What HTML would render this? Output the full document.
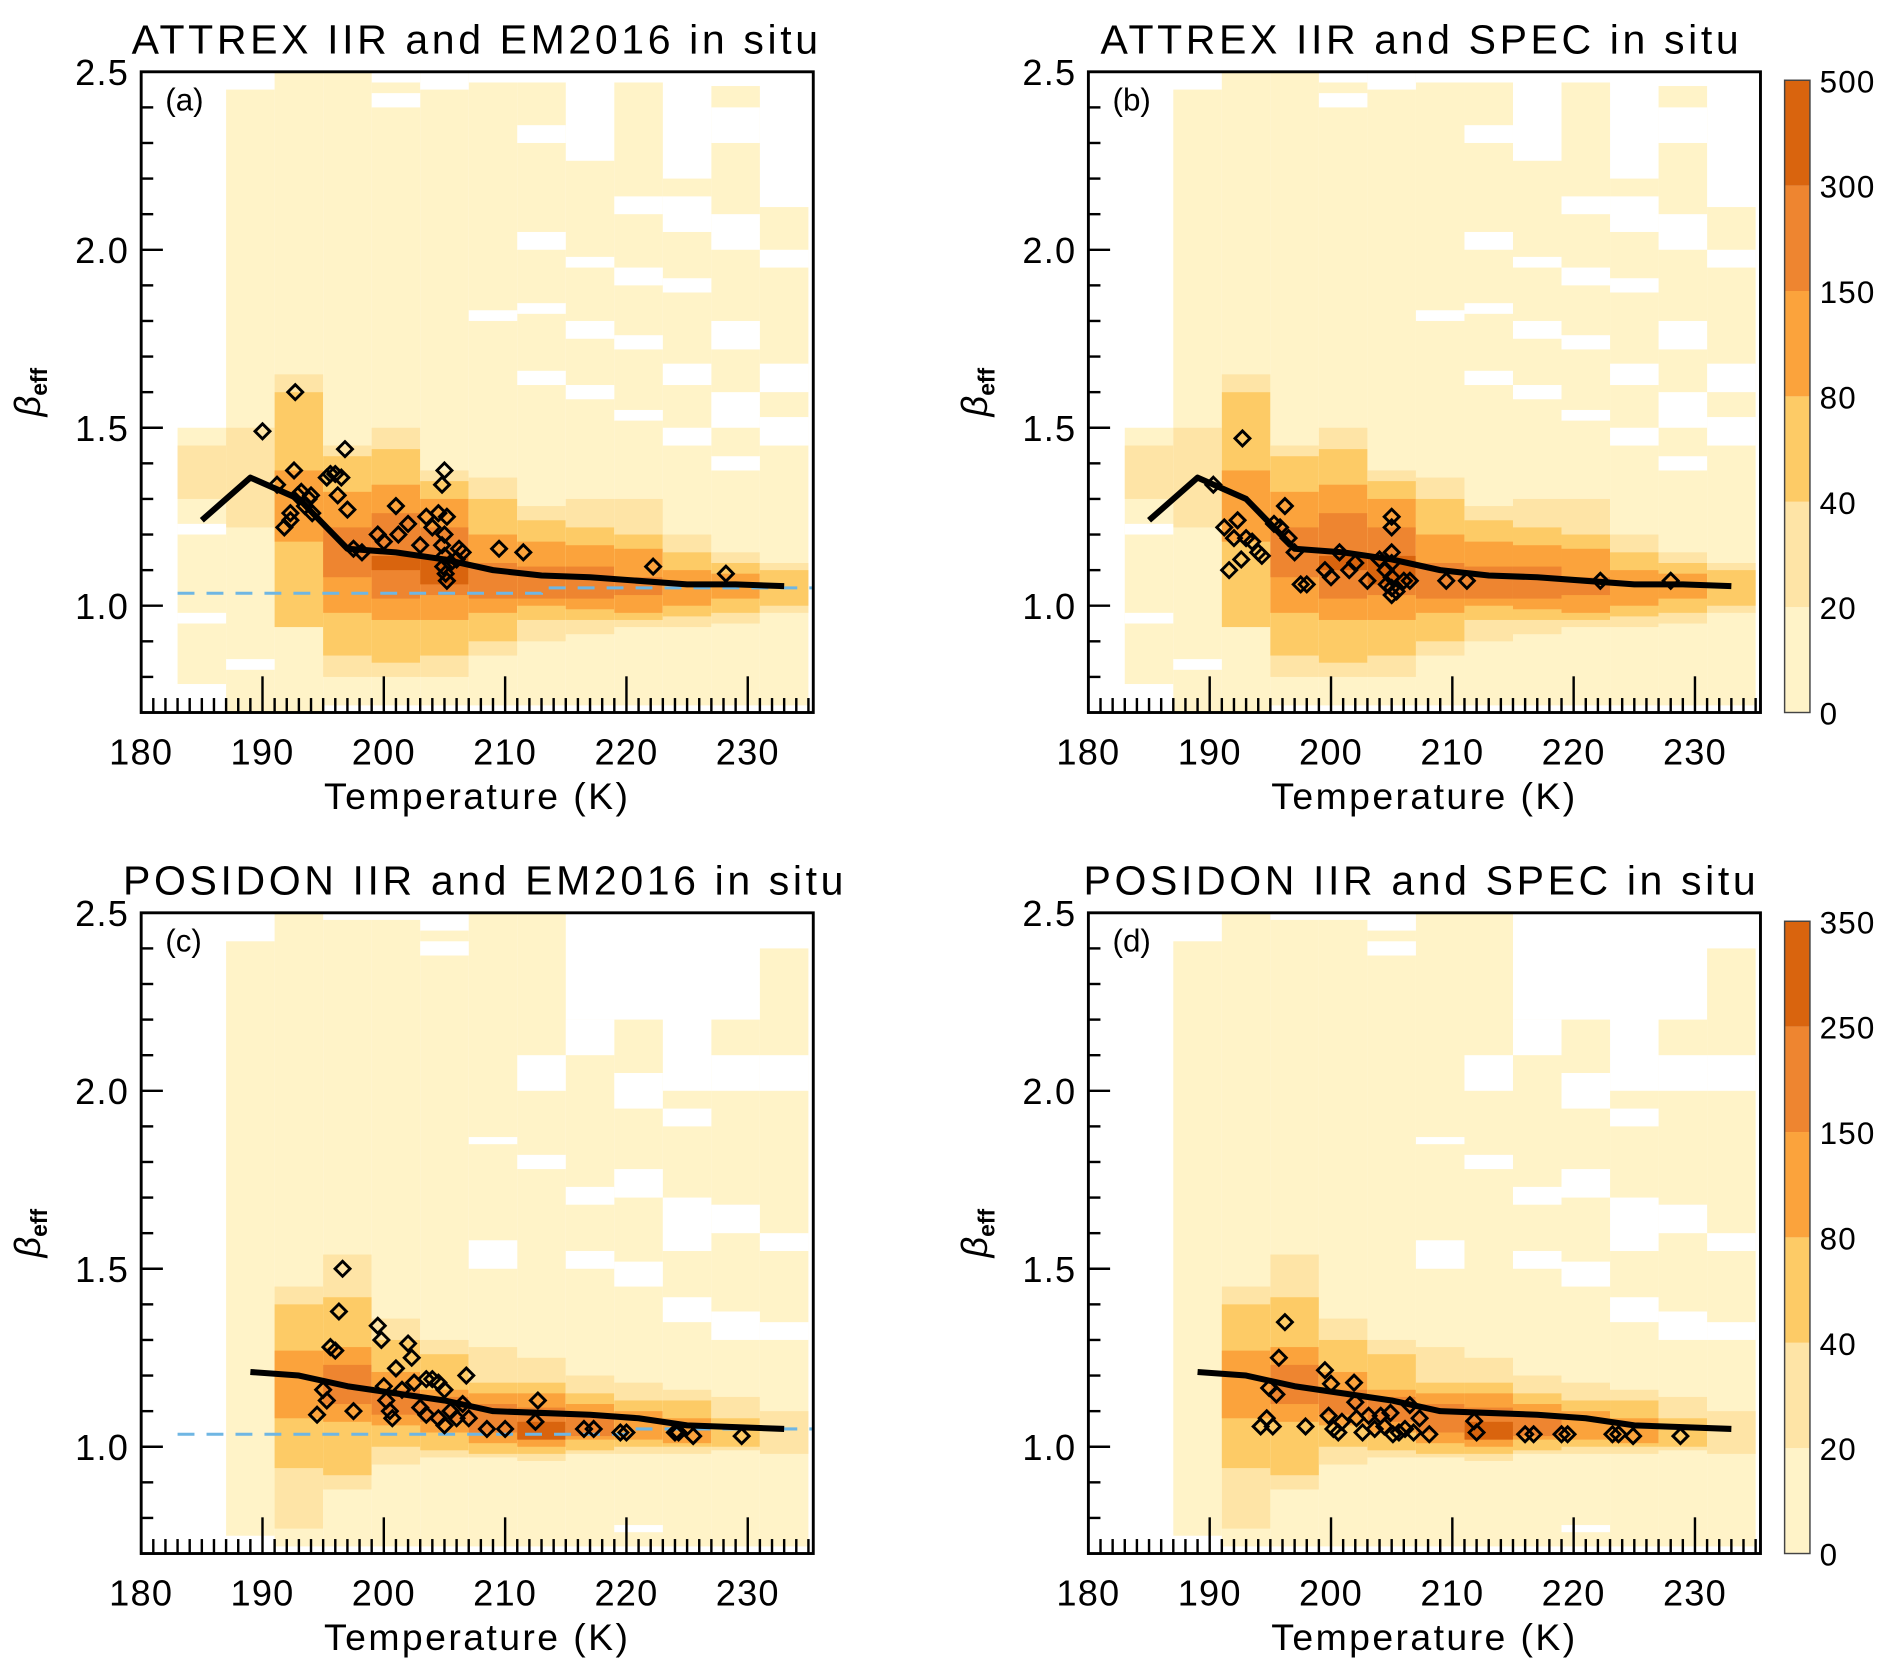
<!DOCTYPE html>
<html><head><meta charset="utf-8"><style>
html,body{margin:0;padding:0;background:#fff}
svg{display:block}
text{font-family:"Liberation Sans",sans-serif;fill:#000}
</style></head><body>
<svg id="fig" width="1892" height="1676" viewBox="0 0 1568 1389" preserveAspectRatio="none" xmlns="http://www.w3.org/2000/svg"></svg>
<script>
// ---- data ----
const levelColors = ["#ffffff","#fff3c8","#fee4a6","#fdcb66","#fba33c","#ee8530","#d9640e"];
const cbLabelsTop = ["0","20","40","80","150","300","500"];
const cbLabelsBottom = ["0","20","40","80","150","250","350"];
const xTickLabels = [180,190,200,210,220,230];
const yTickLabels = ["1.0","1.5","2.0","2.5"];
const colStarts = [183,187,191,195,199,203,207,211,215,219,223,227,231];
// heatmap ATTREX: per column list of [lo,hi,level]
const heatA = [
 [[0.78,1.5,1],[1.3,1.45,2]],
 [[0.7,2.45,1],[1.22,1.5,2]],
 [[0.7,2.5,1],[1.6,1.65,2],[0.94,1.6,3],[1.18,1.38,4]],
 [[0.72,2.5,1],[0.8,1.45,2],[0.86,1.42,3],[0.98,1.32,4],[1.08,1.22,5]],
 [[0.72,2.47,1],[0.8,1.5,2],[0.84,1.44,3],[0.96,1.34,4],[1.02,1.26,5],[1.10,1.14,6]],
 [[0.72,2.5,1],[0.8,1.38,2],[0.86,1.35,3],[0.96,1.3,4],[1.03,1.22,5],[1.06,1.14,6]],
 [[0.72,2.47,1],[0.86,1.36,2],[0.9,1.3,3],[0.98,1.2,4],[1.02,1.12,5]],
 [[0.72,2.47,1],[0.9,1.28,2],[0.96,1.24,3],[1.0,1.18,4],[1.02,1.11,5]],
 [[0.72,2.25,1],[0.92,1.3,2],[0.96,1.22,3],[0.99,1.17,4],[1.02,1.11,5]],
 [[0.72,2.47,1],[0.94,1.3,2],[0.96,1.2,3],[0.98,1.16,4],[1.03,1.08,5]],
 [[0.72,2.2,1],[0.94,1.2,2],[0.97,1.15,3],[1.0,1.10,4]],
 [[0.72,2.46,1],[0.95,1.15,2],[0.98,1.12,3],[1.02,1.09,4]],
 [[0.72,2.12,1],[0.98,1.12,2],[1.0,1.10,3]]
];
const gapsA = [[7,2.3,2.35],[7,2.0,2.05],[7,1.82,1.85],[7,1.62,1.66],[8,1.95,1.98],[8,1.75,1.8],[8,1.58,1.62],[9,2.1,2.15],[9,1.9,1.95],[9,1.72,1.76],[9,1.52,1.55],[10,2.05,2.15],[10,1.88,1.92],[10,1.62,1.68],[10,1.45,1.5],[11,2.3,2.4],[11,2.0,2.1],[11,1.72,1.8],[11,1.5,1.6],[11,1.38,1.42],[12,1.95,2.0],[12,1.6,1.68],[12,1.45,1.53],[6,1.8,1.83],[5,2.45,2.5],[4,2.4,2.44],[1,0.82,0.85],[0,0.95,0.98],[0,1.2,1.23]];
// heatmap POSIDON
const heatC = [
 [],
 [[0.75,2.42,1]],
 [[0.72,2.5,1],[0.77,1.45,2],[0.94,1.40,3],[1.08,1.27,4]],
 [[0.72,2.48,1],[0.88,1.54,2],[0.92,1.42,3],[1.07,1.28,4],[1.12,1.23,5]],
 [[0.72,2.48,1],[0.95,1.36,2],[1.0,1.30,3],[1.06,1.21,4],[1.09,1.16,5]],
 [[0.72,2.45,1],[0.97,1.30,2],[0.99,1.26,3],[1.04,1.16,4],[1.07,1.14,5]],
 [[0.72,2.5,1],[0.97,1.28,2],[0.98,1.18,3],[1.01,1.15,4],[1.04,1.12,5]],
 [[0.72,2.5,1],[0.96,1.25,2],[0.98,1.18,3],[1.0,1.15,4],[1.02,1.11,5],[1.02,1.07,6]],
 [[0.72,2.2,1],[0.98,1.20,2],[0.99,1.15,3],[1.02,1.12,4],[1.03,1.09,5]],
 [[0.72,2.2,1],[0.98,1.18,2],[1.0,1.13,3],[1.02,1.10,4]],
 [[0.72,2.0,1],[0.98,1.16,2],[1.0,1.13,3],[1.01,1.08,4]],
 [[0.72,2.2,1],[0.99,1.14,2],[1.0,1.08,3]],
 [[0.72,2.4,1],[0.98,1.10,2]]
];
const gapsC = [[5,2.38,2.42],[6,1.5,1.58],[6,1.85,1.87],[7,2.0,2.1],[7,1.78,1.82],[8,2.1,2.2],[8,1.68,1.73],[8,1.5,1.55],[9,1.95,2.05],[9,1.7,1.78],[9,1.45,1.52],[10,1.9,1.95],[10,1.55,1.7],[10,1.35,1.42],[11,2.0,2.1],[11,1.6,1.68],[11,1.3,1.38],[12,2.0,2.1],[12,1.55,1.6],[12,1.3,1.35],[9,0.76,0.78]];
// mean curves
const curveTa = [185,189,193,197,201,205,209,213,217,221,225,229,233];
const curveBa = [1.24,1.36,1.30,1.16,1.15,1.13,1.10,1.085,1.08,1.07,1.06,1.06,1.055];
const curveTc = [189,193,197,201,205,209,213,217,221,225,229,233];
const curveBc = [1.21,1.20,1.17,1.15,1.13,1.10,1.095,1.09,1.08,1.06,1.055,1.05];
// dashed reference
const refT = [183,213,213,235.4];
const refBa = [1.035,1.035,1.05,1.05];
const refTc = [183,220,220,235.4];
const refBc = [1.035,1.035,1.05,1.05];
// scatter
const ptsAT=[190,192.7,191.2,191.8,192.3,192.6,192.9,193.2,193.5,193.8,194,194.1,192.3,195.3,195.6,196,196.5,196.2,196.8,197,197.5,198.2,199.5,200,201,201.2,202,203,203.5,204,204.5,205,204.8,205.2,205,204.8,205,204.9,205.1,205.2,205.5,206.2,206.5,206,209.5,211.5,222.2,228.2];
const ptsAB=[1.49,1.60,1.34,1.22,1.26,1.38,1.31,1.32,1.28,1.30,1.31,1.26,1.24,1.36,1.37,1.37,1.36,1.31,1.44,1.27,1.16,1.15,1.20,1.18,1.28,1.20,1.23,1.17,1.25,1.22,1.26,1.38,1.34,1.25,1.20,1.17,1.14,1.11,1.09,1.07,1.12,1.16,1.15,1.13,1.16,1.15,1.11,1.09];
const ptsBT=[190.3,192.7,191.2,191.6,192,192.3,192.6,193,193.5,194,194.3,195.3,195.8,196.2,196.5,197,197.5,198,199.5,200,200.7,201.5,202,203,204,204.5,205,205,205,205,205,205,205,204.6,205.4,206,206.5,209.5,211.2,222.2,228];
const ptsBB=[1.34,1.47,1.22,1.10,1.19,1.24,1.13,1.19,1.18,1.15,1.14,1.23,1.22,1.28,1.19,1.15,1.06,1.06,1.10,1.08,1.15,1.10,1.12,1.07,1.13,1.10,1.25,1.22,1.15,1.12,1.08,1.05,1.03,1.06,1.04,1.07,1.07,1.07,1.07,1.07,1.07];
const ptsCT=[194.5,195,195.3,195.6,196,196.3,196.6,197.5,199.5,199.8,200,200.2,200.5,200.7,201,201.5,202,202.3,202.5,203,203.5,204,204.5,205,205.5,206,206.5,206.8,207,208.5,210,212.5,212.7,216.5,217.3,219.5,220,224,224.3,225.5,229.5,203.5,204.5,205];
const ptsCB=[1.09,1.16,1.13,1.28,1.27,1.38,1.50,1.10,1.34,1.30,1.17,1.13,1.10,1.08,1.22,1.16,1.29,1.25,1.18,1.11,1.19,1.19,1.18,1.16,1.10,1.08,1.12,1.20,1.08,1.05,1.05,1.07,1.13,1.05,1.05,1.04,1.04,1.04,1.04,1.03,1.03,1.09,1.08,1.06];
const ptsDT=[194.2,194.7,195.2,194.9,195.5,195.7,196.2,197.9,199.5,200,199.8,200.2,200.6,200.9,201.9,202,202.1,202.6,203.1,203.6,204.1,204.4,204.9,205.1,205.6,206.1,206.5,206.8,207.3,208.1,211.8,212,216,216.7,219,219.5,223.2,223.7,224.9,228.8];
const ptsDB=[1.057,1.08,1.057,1.165,1.147,1.25,1.35,1.057,1.215,1.177,1.087,1.05,1.04,1.07,1.18,1.125,1.08,1.04,1.087,1.05,1.087,1.057,1.095,1.035,1.04,1.05,1.117,1.04,1.08,1.035,1.072,1.04,1.035,1.035,1.035,1.035,1.035,1.035,1.03,1.03];

// ---- drawing ----
const NS="http://www.w3.org/2000/svg";
const svg=document.getElementById('fig');
function mk(tag,attrs,parent){const e=document.createElementNS(NS,tag);for(const k in attrs)e.setAttribute(k,attrs[k]);(parent||svg).appendChild(e);return e;}
const W=557,H=531,TMIN=180,TMAX=235.4,BMIN=0.7,BMAX=2.5;

function panel(cfg){
 const g=mk('g',{});
 
 
 const L=cfg.x0,T=cfg.y0;
 const xs=t=>L+(t-TMIN)/(TMAX-TMIN)*W;
 const ys=b=>T+(BMAX-b)/(BMAX-BMIN)*H;
 const clipId='clip'+cfg.tag;
 const cp=mk('clipPath',{id:clipId},g);mk('rect',{x:L,y:T,width:W,height:H},cp);
 const hg=mk('g',{'clip-path':'url(#'+clipId+')'},g);
 
 
 cfg.heat.forEach((segs,i)=>{
  const t0=colStarts[i],x0=xs(t0),x1=xs(t0+4);
  segs.forEach(s=>{
   const r=mk('rect',{x:x0,y:ys(s[1]),width:x1-x0,height:ys(s[0])-ys(s[1]),fill:levelColors[s[2]]},hg);
   
   
  });
 });
 cfg.gaps.forEach(gp=>{
  const t0=colStarts[gp[0]];
  mk('rect',{x:xs(t0),y:ys(gp[2]),width:xs(t0+4)-xs(t0),height:ys(gp[1])-ys(gp[2]),fill:'#fff'},hg);
 });
 if(cfg.refT){
  const d=cfg.refT.map((t,i)=>(i?'L':'M')+xs(t)+','+ys(cfg.refB[i])).join('');
  const p=mk('path',{d:d,fill:'none',stroke:'#6fb6e3','stroke-width':2.5,'stroke-dasharray':'14,10'},hg);
  
  
 }
 const cd=cfg.cT.map((t,i)=>(i?'L':'M')+xs(t)+','+ys(cfg.cB[i])).join('');
 const cl=mk('path',{d:cd,fill:'none',stroke:'#000','stroke-width':5,'stroke-linejoin':'round'},hg);
 
 
 cfg.pT.forEach((t,i)=>{
  const cx=xs(t),cy=ys(cfg.pB[i]),r=6.2;
  const p=mk('path',{d:`M${cx},${cy-r}L${cx+r},${cy}L${cx},${cy+r}L${cx-r},${cy}Z`,fill:'none',stroke:'#000','stroke-width':2.4},hg);
  
  
 });
 const fr=mk('rect',{x:L,y:T,width:W,height:H,fill:'none',stroke:'#000','stroke-width':2.4},g);
 
 
 for(let t=181;t<=235;t++){
  const major=(t%10===0);
  mk('line',{x1:xs(t),x2:xs(t),y1:T+H,y2:T+H-(major?30:12),stroke:'#000','stroke-width':2},g);
 }
 xTickLabels.forEach(v=>{
  const tx=mk('text',{x:xs(v),y:T+H+43,'font-size':30,'text-anchor':'middle','letter-spacing':'1'},g);tx.textContent=v;
  
  
 });
 for(let k=8;k<=24;k++){
  const b=k/10,major=(k%5===0);
  mk('line',{x1:L,x2:L+(major?18:10),y1:ys(b),y2:ys(b),stroke:'#000','stroke-width':2},g);
 }
 yTickLabels.forEach(v=>{
  const tx=mk('text',{x:L-10,y:ys(+v)+11,'font-size':30,'text-anchor':'end','letter-spacing':'1'},g);tx.textContent=v;
  
  
 });
 const xt=mk('text',{x:L+W/2,y:T+H+80,'font-size':31,'text-anchor':'middle','letter-spacing':'2'},g);xt.textContent='Temperature (K)';
 
 
 const yt=mk('text',{transform:`translate(${L-84},${T+H/2}) rotate(-90)`,'font-size':30,'text-anchor':'middle','font-style':'italic'},g);
 yt.innerHTML='β<tspan font-size="19" font-style="normal" font-weight="bold" dy="6">eff</tspan>';
 
 
 const ti=mk('text',{x:cfg.titleX,y:T-15,'font-size':34,'text-anchor':'middle','letter-spacing':'3'},g);ti.textContent=cfg.title;
 
 
 const pl=mk('text',{x:L+20,y:T+32,'font-size':26},g);pl.textContent=cfg.label;
 
 
 if(cfg.cb){
  const cx=1479,cw=21,ct=T+7,cb=T+H,n=6,bh=(cb-ct)/n;
  const cg=mk('g',{},g);
  
  
  for(let i=0;i<n;i++){
   mk('rect',{x:cx,y:cb-(i+1)*bh,width:cw,height:bh,fill:levelColors[i+1]},cg);
  }
  mk('rect',{x:cx,y:ct,width:cw,height:cb-ct,fill:'none',stroke:'#444','stroke-width':1.2},cg);
  cfg.cb.forEach((lab,i)=>{
   const tx=mk('text',{x:cx+29,y:cb-i*bh+10,'font-size':26,'letter-spacing':'1'},cg);tx.textContent=lab;
   
   
  });
 }
}
panel({name:'panel-a',tag:'a',x0:117,y0:59.5,heat:heatA,gaps:gapsA,refT:refT,refB:refBa,cT:curveTa,cB:curveBa,pT:ptsAT,pB:ptsAB,title:'ATTREX IIR and EM2016 in situ',titleX:395,label:'(a)'});
panel({name:'panel-b',tag:'b',x0:902,y0:59.5,heat:heatA,gaps:gapsA,cT:curveTa,cB:curveBa,pT:ptsBT,pB:ptsBB,title:'ATTREX IIR and SPEC in situ',titleX:1178,label:'(b)',cb:cbLabelsTop});
panel({name:'panel-c',tag:'c',x0:117,y0:756.5,heat:heatC,gaps:gapsC,refT:refTc,refB:refBc,cT:curveTc,cB:curveBc,pT:ptsCT,pB:ptsCB,title:'POSIDON IIR and EM2016 in situ',titleX:402,label:'(c)'});
panel({name:'panel-d',tag:'d',x0:902,y0:756.5,heat:heatC,gaps:gapsC,cT:curveTc,cB:curveBc,pT:ptsDT,pB:ptsDB,title:'POSIDON IIR and SPEC in situ',titleX:1178,label:'(d)',cb:cbLabelsBottom});
</script>
</body></html>
